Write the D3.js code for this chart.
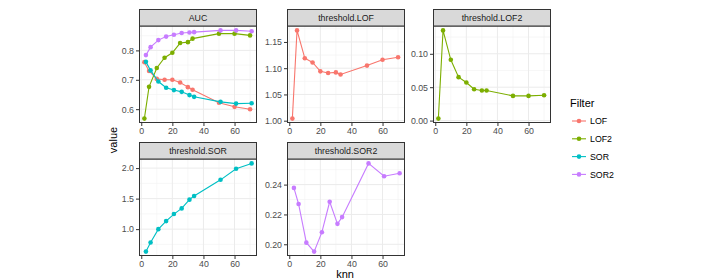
<!DOCTYPE html>
<html><head><meta charset="utf-8">
<script src="https://cdn.jsdelivr.net/npm/d3@7"></script>
<style>html,body{margin:0;padding:0;background:#fff;} svg{display:block;}</style>
</head><body>
<svg id="chart" width="723" height="279"></svg>
<script>
// ---------- data ----------
const panels = ["AUC", "threshold.LOF", "threshold.LOF2", "threshold.SOR", "threshold.SOR2"];
const filters = ["LOF", "LOF2", "SOR", "SOR2"];
const filterColors = ["#F8766D", "#7CAE00", "#00BFC4", "#C77CFF"];

const knnLOF = [2, 5, 10, 15, 20, 25, 30, 33, 50, 60, 70];
const knnSOR = [3, 6, 11, 16, 21, 26, 31, 34, 51, 61, 71];

const aucLOF  = [0.760, 0.730, 0.703, 0.700, 0.700, 0.691, 0.675, 0.666, 0.622, 0.608, 0.600];
const aucLOF2 = [0.568, 0.676, 0.740, 0.775, 0.792, 0.825, 0.828, 0.840, 0.857, 0.857, 0.851];
const aucSOR  = [0.761, 0.732, 0.694, 0.673, 0.665, 0.659, 0.648, 0.642, 0.625, 0.619, 0.620];
const aucSOR2 = [0.784, 0.811, 0.835, 0.847, 0.853, 0.859, 0.861, 0.862, 0.868, 0.868, 0.865];

const thrLOF  = [1.004, 1.172, 1.119, 1.111, 1.094, 1.091, 1.092, 1.088, 1.105, 1.116, 1.121];
const thrLOF2 = [0.003, 0.135, 0.091, 0.065, 0.057, 0.047, 0.045, 0.045, 0.037, 0.037, 0.038];
const thrSOR  = [0.632, 0.780, 1.000, 1.132, 1.247, 1.340, 1.483, 1.544, 1.808, 1.989, 2.077];
const thrSOR2 = [0.2378, 0.2270, 0.2011, 0.1951, 0.2081, 0.2285, 0.2137, 0.2182, 0.2542, 0.2456, 0.2476];

const xTicks = [0, 20, 40, 60];
const yTicksAUC  = [0.6, 0.7, 0.8];
const yTicksLOF  = [1.00, 1.05, 1.10, 1.15];
const yTicksLOF2 = [0.00, 0.05, 0.10];
const yTicksSOR  = [1.0, 1.5, 2.0];
const yTicksSOR2 = [0.20, 0.22, 0.24];

// ---------- assemble ----------
const knnOf = f => (f === "SOR" || f === "SOR2") ? knnSOR : knnLOF;
const panelSeries = [
  [["LOF", aucLOF], ["LOF2", aucLOF2], ["SOR", aucSOR], ["SOR2", aucSOR2]],
  [["LOF", thrLOF]],
  [["LOF2", thrLOF2]],
  [["SOR", thrSOR]],
  [["SOR2", thrSOR2]]
];
const panelTicks = [yTicksAUC, yTicksLOF, yTicksLOF2, yTicksSOR, yTicksSOR2];
const panelDigits = [1, 2, 2, 1, 2];

const color = d3.scaleOrdinal().domain(filters).range(filterColors);

// ---------- layout ----------
const colX = [139, 287, 433];
const panelW = 118;
const rowTop = [9, 142];
const stripH = 17;
const plotH = 97;
const font = "Liberation Sans, Arial, Helvetica, sans-serif";

const svg = d3.select("#chart");

function expand(ext, mult) {
  const r = ext[1] - ext[0];
  return [ext[0] - r * mult, ext[1] + r * mult];
}

const allKnn = knnLOF.concat(knnSOR);
const xDomain = expand(d3.extent(allKnn), 0.05);

function minorTicks(major, domain) {
  const step = major[1] - major[0];
  const out = [];
  for (let v = major[0] - step / 2; v <= major[major.length - 1] + step; v += step) {
    if (v >= domain[0] && v <= domain[1]) out.push(v);
  }
  return out;
}

panels.forEach((name, i) => {
  const col = i % 3, row = Math.floor(i / 3);
  const x0 = colX[col];
  const top = rowTop[row] + stripH;
  const g = svg.append("g");

  const series = panelSeries[i].map(([f, vals]) => ({
    f, pts: vals.map((v, j) => ({ k: knnOf(f)[j], v }))
  }));
  const allV = series.flatMap(s => s.pts.map(p => p.v));
  const yDomain = expand(d3.extent(allV), 0.05);

  const x = d3.scaleLinear().domain(xDomain).range([x0, x0 + panelW]);
  const y = d3.scaleLinear().domain(yDomain).range([top + plotH, top]);

  g.append("rect").attr("x", x0).attr("y", top).attr("width", panelW).attr("height", plotH).attr("fill", "#fff");

  const yt = panelTicks[i];
  minorTicks(yt, yDomain).forEach(v => {
    g.append("line").attr("x1", x0).attr("x2", x0 + panelW).attr("y1", y(v)).attr("y2", y(v))
      .attr("stroke", "#F2F2F2").attr("stroke-width", 0.6);
  });
  minorTicks(xTicks, xDomain).forEach(v => {
    g.append("line").attr("y1", top).attr("y2", top + plotH).attr("x1", x(v)).attr("x2", x(v))
      .attr("stroke", "#F2F2F2").attr("stroke-width", 0.6);
  });
  yt.forEach(v => {
    g.append("line").attr("x1", x0).attr("x2", x0 + panelW).attr("y1", y(v)).attr("y2", y(v))
      .attr("stroke", "#EBEBEB").attr("stroke-width", 1);
  });
  xTicks.forEach(v => {
    g.append("line").attr("y1", top).attr("y2", top + plotH).attr("x1", x(v)).attr("x2", x(v))
      .attr("stroke", "#EBEBEB").attr("stroke-width", 1);
  });

  const line = d3.line().x(p => x(p.k)).y(p => y(p.v));
  series.forEach(s => {
    g.append("path").attr("d", line(s.pts)).attr("fill", "none")
      .attr("stroke", color(s.f)).attr("stroke-width", 1.1);
    g.selectAll(null).data(s.pts).enter().append("circle")
      .attr("cx", p => x(p.k)).attr("cy", p => y(p.v)).attr("r", 2.3)
      .attr("fill", color(s.f));
  });

  g.append("rect").attr("x", x0 + 0.5).attr("y", top).attr("width", panelW - 1).attr("height", plotH - 0.5)
    .attr("fill", "none").attr("stroke", "#333333").attr("stroke-width", 1);

  g.append("rect").attr("x", x0 + 0.5).attr("y", rowTop[row] + 0.5).attr("width", panelW - 1).attr("height", stripH - 0.5)
    .attr("fill", "#D9D9D9").attr("stroke", "#333333").attr("stroke-width", 1);
  g.append("text").attr("x", x0 + panelW / 2).attr("y", rowTop[row] + stripH / 2 + 3.2)
    .attr("text-anchor", "middle").attr("font-family", font).attr("font-size", 8.8)
    .attr("fill", "#1A1A1A").text(name);

  const yAxis = d3.axisLeft(y).tickValues(yt).tickSize(3).tickPadding(2)
    .tickFormat(d3.format("." + panelDigits[i] + "f"));
  const ya = g.append("g").attr("transform", `translate(${x0},0)`).call(yAxis);
  ya.select(".domain").remove();
  ya.selectAll(".tick line").attr("stroke", "#333333");
  ya.selectAll(".tick text").attr("fill", "#4D4D4D").attr("font-family", font).attr("font-size", 8.8);

  const xAxis = d3.axisBottom(x).tickValues(xTicks).tickSize(3).tickPadding(1.5).tickFormat(d3.format("d"));
  const xa = g.append("g").attr("transform", `translate(0,${top + plotH})`).call(xAxis);
  xa.select(".domain").remove();
  xa.selectAll(".tick line").attr("stroke", "#333333");
  xa.selectAll(".tick text").attr("fill", "#4D4D4D").attr("font-family", font).attr("font-size", 8.8);
});

svg.append("text").attr("transform", "translate(117,140) rotate(-90)")
  .attr("text-anchor", "middle").attr("font-family", font).attr("font-size", 11).attr("fill", "#000").text("value");
svg.append("text").attr("x", 345).attr("y", 278)
  .attr("text-anchor", "middle").attr("font-family", font).attr("font-size", 11).attr("fill", "#000").text("knn");

const lg = svg.append("g");
lg.append("text").attr("x", 570).attr("y", 107).attr("font-family", font).attr("font-size", 11).attr("fill", "#000").text("Filter");
filters.forEach((f, i) => {
  const cy = 121 + i * 17.8;
  lg.append("line").attr("x1", 572).attr("x2", 586).attr("y1", cy).attr("y2", cy)
    .attr("stroke", color(f)).attr("stroke-width", 1.1);
  lg.append("circle").attr("cx", 579).attr("cy", cy).attr("r", 2.3).attr("fill", color(f));
  lg.append("text").attr("x", 590).attr("y", cy + 3.2).attr("font-family", font).attr("font-size", 8.8)
    .attr("fill", "#000").text(f);
});
</script>
</body></html>
